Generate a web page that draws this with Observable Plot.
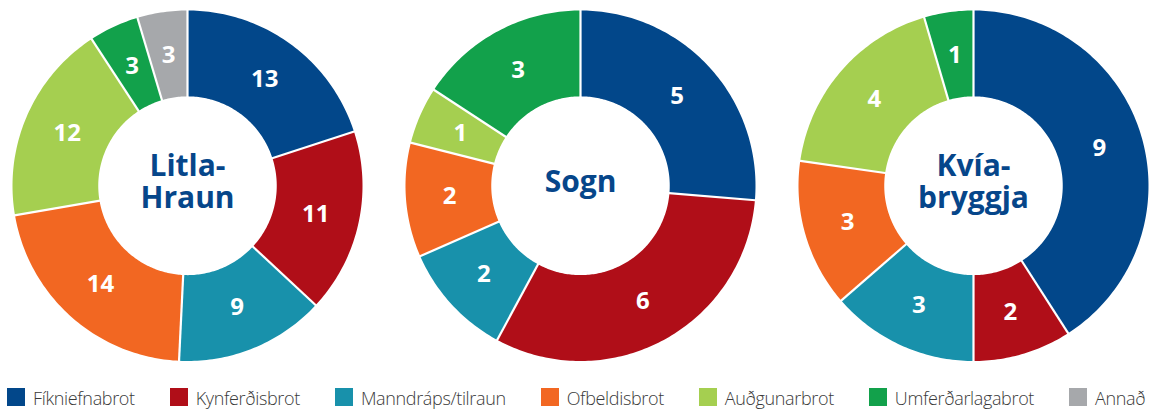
<!DOCTYPE html>
<html>
<head>
<meta charset="utf-8">
<script src="https://cdn.jsdelivr.net/npm/d3@7"></script>
<script src="https://cdn.jsdelivr.net/npm/@observablehq/plot@0.6"></script>
<style>
  body { margin: 0; background: #fff; font-family: "Open Sans", sans-serif; overflow: hidden; }
  #chart svg { display: block; }
  #legend { position: absolute; left: 7px; top: 388px; display: flex; align-items: flex-start; height: 18px; }
  .item { display: flex; align-items: flex-start; margin-right: 35px; height: 18px; }
  .sw { width: 18px; height: 18px; margin-right: 8px; flex: none; }
  .lb { display: block; font-size: 18px; line-height: 18px; font-weight: 300; color: #3a3a3a; white-space: nowrap; letter-spacing: -0.35px; position: relative; top: 1px; }
</style>
</head>
<body>
<div id="chart"></div>
<div id="legend"></div>
<script>
const categories = ["Fíkniefnabrot", "Kynferðisbrot", "Manndráps/tilraun", "Ofbeldisbrot", "Auðgunarbrot", "Umferðarlagabrot", "Annað"];
const colors = ["#02478a", "#b00e18", "#1891ab", "#f26722", "#a5cf50", "#12a14b", "#a6a8ab"];
const prisons = ["Litla-Hraun", "Sogn", "Kvíabryggja"];
const prisonLabels = ["Litla-\nHraun", "Sogn", "Kvía-\nbryggja"];
const litlaHraun = [13, 11, 9, 14, 12, 3, 3];
const sogn = [5, 6, 2, 2, 1, 3, 0];
const kviabryggja = [9, 2, 3, 3, 4, 1, 0];

const series = [litlaHraun, sogn, kviabryggja];
const R0 = 0.51, R1 = 1, RL = 0.75;
const wedges = [], seps = [], labels = [];
prisons.forEach((p, pi) => {
  const vals = series[pi];
  const total = d3.sum(vals);
  let cum = 0;
  vals.forEach((v, ci) => {
    if (!v) return;
    const a0 = cum / total * 2 * Math.PI;
    const a1 = (cum + v) / total * 2 * Math.PI;
    cum += v;
    const id = p + "|" + ci;
    const n = Math.max(2, Math.ceil((a1 - a0) / (Math.PI / 180)));
    const pts = [];
    for (let k = 0; k <= n; k++) { const a = a0 + (a1 - a0) * k / n; pts.push([R1 * Math.sin(a), R1 * Math.cos(a)]); }
    for (let k = n; k >= 0; k--) { const a = a0 + (a1 - a0) * k / n; pts.push([R0 * Math.sin(a), R0 * Math.cos(a)]); }
    pts.push(pts[0]);
    pts.forEach(([x, y]) => wedges.push({prison: p, cat: categories[ci], id, x, y}));
    seps.push({prison: p, x1: (R0 - 0.02) * Math.sin(a0), y1: (R0 - 0.02) * Math.cos(a0), x2: (R1 + 0.02) * Math.sin(a0), y2: (R1 + 0.02) * Math.cos(a0)});
    const m = (a0 + a1) / 2;
    labels.push({prison: p, value: String(v), x: RL * Math.sin(m), y: RL * Math.cos(m)});
  });
});
const centers = prisons.map((p, i) => ({prison: p, label: prisonLabels[i]}));

const chart = Plot.plot({
  width: 1175,
  height: 372,
  marginLeft: 11,
  marginRight: 25.5,
  marginTop: 10,
  marginBottom: 11.5,
  fx: {domain: prisons, axis: null, paddingInner: 0.1104, paddingOuter: 0},
  x: {domain: [-1, 1], axis: null},
  y: {domain: [-1, 1], axis: null},
  color: {domain: categories, range: colors},
  style: {fontFamily: "'Open Sans', sans-serif"},
  marks: [
    Plot.line(wedges, {fx: "prison", x: "x", y: "y", z: "id", fill: "cat", stroke: "none"}),
    Plot.link(seps, {fx: "prison", x1: "x1", y1: "y1", x2: "x2", y2: "y2", stroke: "white", strokeWidth: 2.2, strokeLinecap: "butt"}),
    Plot.text(labels, {fx: "prison", x: "x", y: "y", text: "value", fill: "white", fontSize: 24, fontWeight: 700}),
    Plot.text(centers, {fx: "prison", frameAnchor: "middle", text: "label", fill: "#06468a", fontSize: 30, fontWeight: 700, lineHeight: 1.07, dy: -4, letterSpacing: -0.5})
  ]
});
document.getElementById("chart").appendChild(chart);

const legend = document.getElementById("legend");
categories.forEach((c, i) => {
  const item = document.createElement("div");
  item.className = "item";
  const sw = document.createElement("div");
  sw.className = "sw";
  sw.style.background = colors[i];
  const lb = document.createElement("span");
  lb.className = "lb";
  lb.textContent = c;
  item.appendChild(sw);
  item.appendChild(lb);
  legend.appendChild(item);
});
</script>
</body>
</html>
